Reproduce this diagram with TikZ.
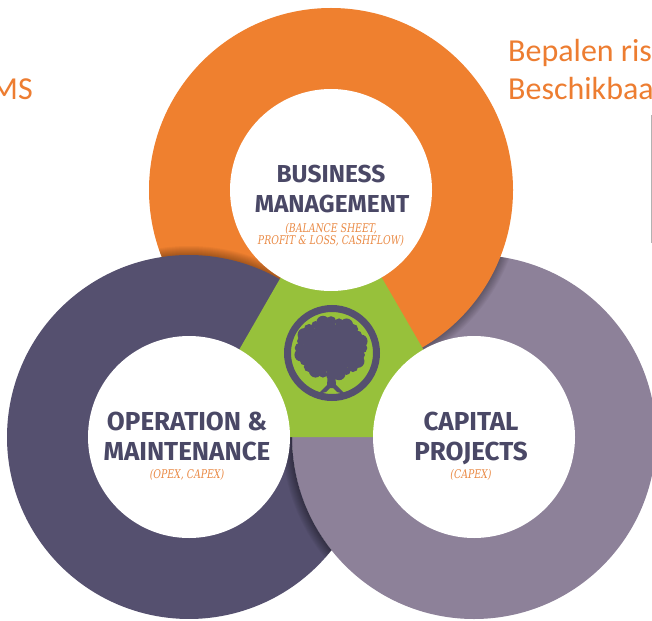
\documentclass[tikz,border=0pt]{standalone}
\usepackage{fontspec}
\setmainfont{Carlito}
\newfontfamily\headfont{Fira Sans}
\newfontfamily\subfont[FakeStretch=0.78]{DejaVu Serif}
\definecolor{ringorange}{HTML}{EF802F}
\definecolor{ringdark}{HTML}{55506F}
\definecolor{ringlight}{HTML}{8D8199}
\definecolor{centergreen}{HTML}{97C13B}
\definecolor{textdark}{HTML}{4A4866}
\definecolor{suborange}{HTML}{EA8A45}
\definecolor{sideorange}{HTML}{ED7D31}
\begin{document}
\begin{tikzpicture}[x=1pt,y=-1pt,
  headtext/.style={font=\headfont\bfseries\fontsize{26}{26}\selectfont, text=textdark, inner sep=0pt, anchor=base},
  toptext/.style={font=\headfont\bfseries\fontsize{24.5}{24.5}\selectfont, text=textdark, inner sep=0pt, anchor=base},
  subtext/.style={font=\subfont\itshape\fontsize{12}{12}\selectfont, text=suborange, inner sep=0pt, anchor=base},
  sidetext/.style={font=\fontsize{32}{32}\selectfont, text=sideorange, inner sep=0pt}]
\useasboundingbox (0,0) rectangle (652,620);
\clip (0,0) rectangle (652,620);
\fill[white] (0,0) rectangle (652,620);
\coordinate (O) at (331,190);
\coordinate (L) at (189,437);
\coordinate (R) at (474,437);
% light ring (bottom right)
\fill[ringlight] (R) circle[radius=182pt];
% shadow of orange onto light
\begin{scope}
  \clip (R) circle[radius=182pt];
  \foreach \k in {1,...,9}{\pgfmathsetmacro\rr{182+\k}\fill[black,opacity=0.035,even odd rule] (O) circle[radius=\rr pt] (O) circle[radius=181pt];}
\end{scope}
% orange ring (top)
\fill[ringorange] (O) circle[radius=182pt];
% shadow of dark onto orange
\begin{scope}
  \clip (O) circle[radius=182pt];
  \foreach \k in {1,...,9}{\pgfmathsetmacro\rr{182+\k}\fill[black,opacity=0.035,even odd rule] (L) circle[radius=\rr pt] (L) circle[radius=181pt];}
\end{scope}
% dark ring (bottom left), lying under the light ring: region L minus R
\fill[ringdark] (331.5,323.8) arc[start angle=38.46, end angle=321.54, radius=182pt]
  arc[start angle=218.46, end angle=141.54, radius=182pt] -- cycle;
% shadow of light onto dark
\begin{scope}
  \clip (L) circle[radius=182pt];
  \foreach \k in {1,...,10}{\pgfmathsetmacro\rr{182+\k}\fill[black,opacity=0.04,even odd rule] (R) circle[radius=\rr pt] (R) circle[radius=182pt];}
\end{scope}
% green centre
\fill[centergreen] (O) -- (L) -- (R) -- cycle;
% inner white disks
\fill[white] (O) circle[radius=101pt];
\fill[white] (L) circle[radius=101pt];
\fill[white] (R) circle[radius=101pt];
% emblem
\coordinate (E) at (332,353);
\draw[ringdark, line width=7pt] (E) circle[radius=44.5pt];
\fill[ringdark] (331,348) ellipse[x radius=28pt, y radius=24pt];
\foreach \a [count=\i] in {0,15,...,345}{
  \pgfmathsetmacro\br{4+mod(\i,3)*1.3}
  \fill[ringdark, shift={(331,348)}] (\a:31pt and 26.5pt) circle[radius=\br pt];}
\fill[ringdark] (328,372) -- (335,372) -- (336,385) -- (345,394) -- (337,392) -- (333,388) -- (330,388) -- (326,392) -- (318,394) -- (327,385) -- cycle;
% texts top
\node[toptext] (bm1) at (331,183) {BUSINESS};
\node[toptext] (bm2) at (332,212) {MANAGEMENT};
\node[subtext] (bm3) at (331,232) {(BALANCE SHEET,};
\node[subtext] (bm4) at (331,244) {PROFIT \& LOSS, CASHFLOW)};
% texts left
\node[headtext] (om1) at (187,430) {OPERATION \&};
\node[headtext] (om2) at (187,460) {MAINTENANCE};
\node[subtext] (om3) at (187,478) {(OPEX, CAPEX)};
% texts right
\node[headtext] (cp1) at (471,430) {CAPITAL};
\node[headtext] (cp2) at (471,460) {PROJECTS};
\node[subtext] (cp3) at (471,478) {(CAPEX)};
% side texts
\node[sidetext, anchor=base west] (s1) at (508,62) {Bepalen ris};
\node[sidetext, anchor=base west] (s2) at (508,100) {Beschikbaa};
\node[sidetext, anchor=base east] (s3) at (33,100) {MS};
\coordinate (g1) at (651,115);
\coordinate (g2) at (651,243);
\draw[black!30, line width=1pt] (g1) -- (g2);
\end{tikzpicture}
\end{document}
